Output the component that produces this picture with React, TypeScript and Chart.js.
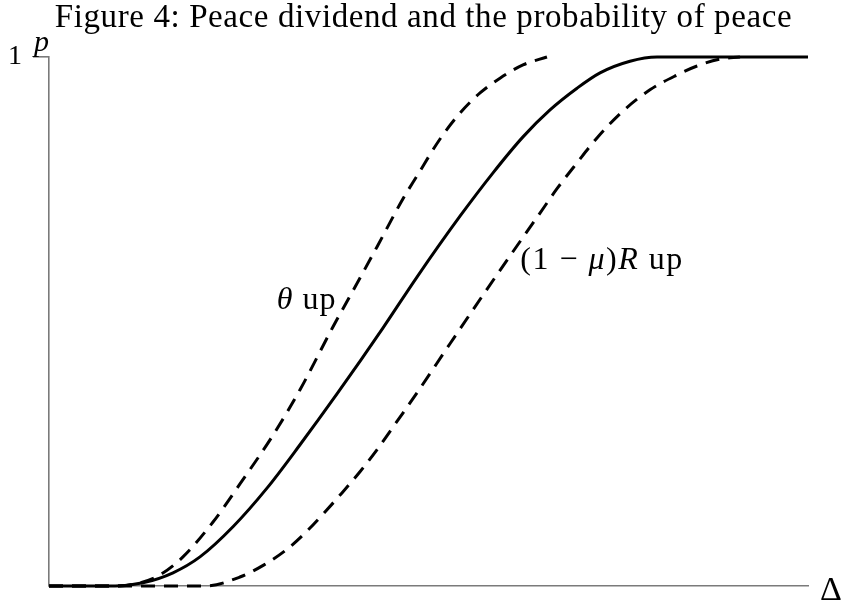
import React, { useEffect, useRef } from "react";
import { Chart, registerables } from "chart.js";

Chart.register(...registerables);

const TITLE = "Figure 4: Peace dividend and the probability of peace";

// Baseline curve (solid): peace dividend Δ (0–100) vs probability of peace p
const deltaBase = [0, 8.7, 12.38, 16.34, 19.89, 24.24, 28.72, 33.07, 37.94, 44.01, 48.48, 54.15, 58.5, 62.45, 66.01, 69.57, 72.6, 76.55, 80.11, 100];
const pBase = [0, 0, 0.006, 0.025, 0.055, 0.112, 0.185, 0.267, 0.363, 0.488, 0.584, 0.699, 0.781, 0.849, 0.9, 0.941, 0.97, 0.992, 1, 1];

// "θ up" curve (dashed, shifted left)
const deltaTheta = [0, 8.7, 11.99, 14.62, 17.65, 21.61, 25.16, 29.51, 33.07, 37.42, 39.66, 43.21, 46.64, 48.48, 51.52, 54.15, 56.79, 59.42, 62.45, 65.61];
const pTheta = [0, 0, 0.006, 0.021, 0.055, 0.121, 0.193, 0.285, 0.371, 0.49, 0.548, 0.641, 0.732, 0.775, 0.845, 0.894, 0.932, 0.96, 0.985, 1.0];

// "(1 − μ)R up" curve (dashed, shifted right)
const deltaR = [0, 20.55, 25.16, 28.33, 31.23, 33.86, 36.23, 38.6, 40.97, 43.08, 45.06, 48.48, 52.83, 57.18, 60.74, 64.69, 66.93, 69.57, 72.2, 75.63, 79.18, 82.74, 85.38, 88.41, 91.04];
const pR = [0, 0, 0.017, 0.04, 0.068, 0.102, 0.138, 0.176, 0.216, 0.255, 0.295, 0.365, 0.458, 0.55, 0.624, 0.705, 0.751, 0.8, 0.847, 0.898, 0.938, 0.966, 0.983, 0.996, 1];

// Axis tick values / labels
const yTickValues = [1];
const yTickLabels = ["1"];

// Label anchors in data units [Δ, p]
const thetaLabelAt = [30.0, 0.524];
const rLabelAt = [62.1, 0.6];

const FONT = '"Liberation Serif", "Times New Roman", serif';

type Run = [string, boolean];

function drawRuns(
  ctx: CanvasRenderingContext2D,
  runs: Run[],
  x: number,
  y: number,
  size: number,
  align: "left" | "center" | "right",
  spacing = 0
) {
  const c: any = ctx;
  c.letterSpacing = `${spacing}px`;
  const widths = runs.map(([t, it]) => {
    ctx.font = `${it ? "italic " : ""}${size}px ${FONT}`;
    return ctx.measureText(t).width;
  });
  const total = widths.reduce((a, b) => a + b, 0);
  let cx = align === "right" ? x - total : align === "center" ? x - total / 2 : x;
  runs.forEach(([t, it], i) => {
    ctx.font = `${it ? "italic " : ""}${size}px ${FONT}`;
    ctx.fillText(t, cx, y);
    cx += widths[i];
  });
  c.letterSpacing = "0px";
}

const annotate = {
  id: "annotate",
  afterDraw(chart: any) {
    const { ctx, chartArea, scales } = chart;
    const xs = scales.x;
    const ys = scales.y;
    ctx.save();
    ctx.fillStyle = "#000";
    ctx.textAlign = "left";
    ctx.textBaseline = "alphabetic";
    drawRuns(ctx, [[TITLE, false]], chart.width / 2, 27, 33, "center", 0.6);
    drawRuns(ctx, [["p", true]], chartArea.left - 15, ys.getPixelForValue(1) - 6, 30, "left");
    drawRuns(ctx, [["Δ", false]], chartArea.right + 12, chartArea.bottom + 14, 34, "left");
    drawRuns(
      ctx,
      [["θ", true], [" up", false]],
      xs.getPixelForValue(thetaLabelAt[0]),
      ys.getPixelForValue(thetaLabelAt[1]),
      32,
      "left",
      1
    );
    drawRuns(
      ctx,
      [["(1 − ", false], ["μ", true], [")", false], ["R", true], [" up", false]],
      xs.getPixelForValue(rLabelAt[0]),
      ys.getPixelForValue(rLabelAt[1]),
      32,
      "left",
      1.5
    );
    ctx.restore();
  },
};

const toPoints = (xs: number[], ys: number[]) => xs.map((x, i) => ({ x, y: ys[i] }));

export default function App() {
  const ref = useRef<HTMLCanvasElement | null>(null);
  useEffect(() => {
    if (!ref.current) return;
    const lineCommon = {
      borderColor: "#000",
      borderWidth: 3,
      pointRadius: 0,
      fill: false,
      cubicInterpolationMode: "monotone" as const,
      clip: false as const,
    };
    const chart = new Chart(ref.current, {
      type: "line",
      data: {
        datasets: [
          { ...lineCommon, label: "baseline", data: toPoints(deltaBase, pBase) },
          { ...lineCommon, label: "θ up", data: toPoints(deltaTheta, pTheta), borderDash: [14, 9] },
          { ...lineCommon, label: "(1 − μ)R up", data: toPoints(deltaR, pR), borderDash: [14, 9] },
        ],
      },
      options: {
        animation: false,
        responsive: false,
        events: [],
        layout: { padding: { left: 0, right: 39, top: 57, bottom: 0 } },
        plugins: { legend: { display: false }, tooltip: { enabled: false }, title: { display: false } },
        scales: {
          x: {
            type: "linear",
            min: 0,
            max: 100,
            ticks: { display: false },
            grid: { display: false, drawTicks: false, tickLength: 0 },
            border: { display: true, color: "#7a7a7a", width: 1.6 },
            afterFit: (s: any) => {
              s.height = 18;
              s.paddingLeft = 0;
              s.paddingRight = 0;
              s.paddingTop = 0;
              s.paddingBottom = 0;
            },
          },
          y: {
            type: "linear",
            min: 0,
            max: 1,
            afterBuildTicks: (s: any) => {
              s.ticks = yTickValues.map((v) => ({ value: v }));
            },
            ticks: {
              display: true,
              padding: 11,
              color: "#000",
              font: { family: FONT, size: 28 },
              callback: (v: any) => {
                const i = yTickValues.indexOf(Number(v));
                return i >= 0 ? yTickLabels[i] : "";
              },
            },
            grid: { display: true, drawOnChartArea: false, drawTicks: true, tickLength: 16, color: "#7a7a7a", lineWidth: 1.6 },
            border: { display: true, color: "#7a7a7a", width: 1.6 },
            afterFit: (s: any) => {
              s.width = 49;
              s.paddingTop = 0;
              s.paddingBottom = 0;
              s.paddingLeft = 0;
              s.paddingRight = 0;
            },
          },
        },
      },
      plugins: [annotate],
    });
    return () => chart.destroy();
  }, []);
  return (
    <div style={{ position: "absolute", left: 0, top: 0, width: 847, height: 604, background: "#fff" }}>
      <canvas ref={ref} width={847} height={604} />
    </div>
  );
}
